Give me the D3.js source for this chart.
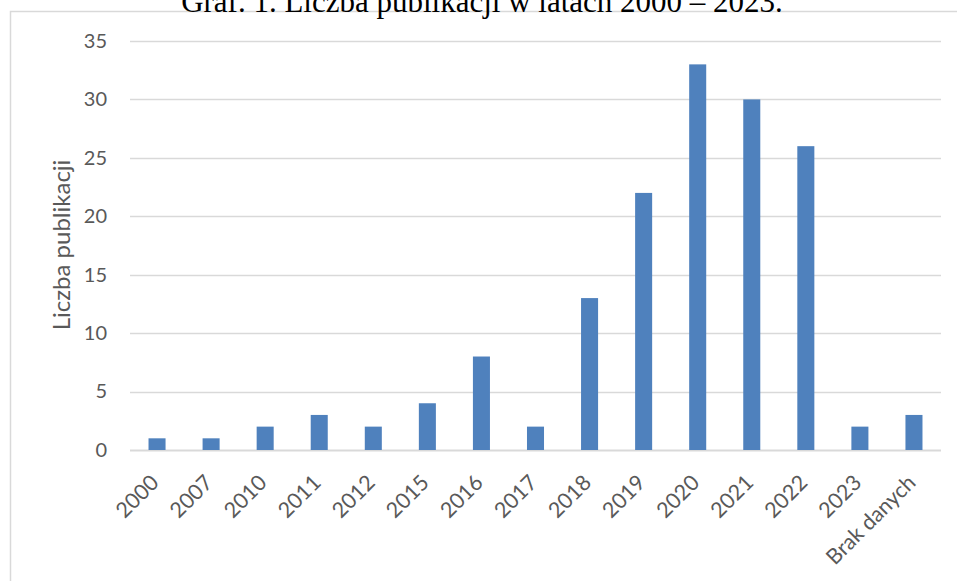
<!DOCTYPE html>
<html>
<head>
<meta charset="utf-8">
<script src="https://cdn.jsdelivr.net/npm/d3@7"></script>
<style>
  html, body { margin: 0; padding: 0; background: #fff; }
  svg { display: block; }
</style>
</head>
<body>
<svg id="chart" width="957" height="581"></svg>
<script>
// Publication counts per year
const categories = ["2000", "2007", "2010", "2011", "2012", "2015", "2016", "2017", "2018", "2019", "2020", "2021", "2022", "2023", "Brak danych"];
const counts = [1, 1, 2, 3, 2, 4, 8, 2, 13, 22, 33, 30, 26, 2, 3];
const yTicks = [0, 5, 10, 15, 20, 25, 30, 35];
const titleText = "Graf. 1. Liczba publikacji w latach 2000 – 2023.";
const yAxisTitle = "Liczba publikacji";

const svg = d3.select("#chart");
const W = 957, H = 581;
const plot = { left: 130, right: 941, top: 41, bottom: 450 };
const labelFont = "Lato, 'Open Sans', sans-serif";

// Frame of the chart area
svg.append("path")
  .attr("d", `M10.5,${H} V11.5 H${W}`)
  .attr("fill", "none")
  .attr("stroke", "#d9d9d9")
  .attr("stroke-width", 1.5);

// Title (runs past the top edge)
svg.append("text")
  .attr("x", 482)
  .attr("y", 12)
  .attr("text-anchor", "middle")
  .attr("font-family", "'Liberation Serif', 'Times New Roman', serif")
  .attr("font-size", 31)
  .attr("fill", "#000")
  .text(titleText);

const x = d3.scaleBand()
  .domain(categories)
  .range([plot.left, plot.right])
  .paddingInner(0.685)
  .paddingOuter(0.3425);

const y = d3.scaleLinear()
  .domain([0, 35])
  .range([plot.bottom, plot.top]);

// Gridlines
svg.append("g")
  .selectAll("line")
  .data(yTicks)
  .join("line")
  .attr("x1", plot.left)
  .attr("x2", plot.right)
  .attr("y1", d => Math.round(y(d)) + 0.5)
  .attr("y2", d => Math.round(y(d)) + 0.5)
  .attr("stroke", "#d9d9d9")
  .attr("stroke-width", d => d === 0 ? 2 : 1.3);

// Y axis labels
const yAxis = d3.axisLeft(y).tickValues(yTicks).tickSize(0).tickPadding(0);
const yg = svg.append("g")
  .attr("transform", `translate(${plot.left - 23},0)`)
  .call(yAxis);
yg.select(".domain").remove();
yg.selectAll("text")
  .attr("font-family", labelFont)
  .attr("font-size", 20)
  .attr("fill", "#595959");

// Bars
svg.append("g")
  .selectAll("rect")
  .data(categories.map((c, i) => ({ c, v: counts[i] })))
  .join("rect")
  .attr("x", d => x(d.c))
  .attr("width", x.bandwidth())
  .attr("y", d => y(d.v))
  .attr("height", d => y(0) - y(d.v))
  .attr("fill", "#4f81bd");

// X axis labels, rotated
const xAxis = d3.axisBottom(x).tickSize(0).tickPadding(0);
const xg = svg.append("g")
  .attr("transform", `translate(0,${plot.bottom})`)
  .call(xAxis);
xg.select(".domain").remove();
xg.selectAll("text")
  .attr("font-family", labelFont)
  .attr("font-size", 21.5)
  .attr("fill", "#595959")
  .attr("text-anchor", "end")
  .attr("dy", null)
  .attr("y", 0)
  .attr("transform", "translate(3,34) rotate(-45)");

// Y axis title
svg.append("text")
  .attr("transform", "translate(70,245) rotate(-90)")
  .attr("text-anchor", "middle")
  .attr("font-family", labelFont)
  .attr("font-size", 24)
  .attr("fill", "#595959")
  .text(yAxisTitle);
</script>
</body>
</html>
